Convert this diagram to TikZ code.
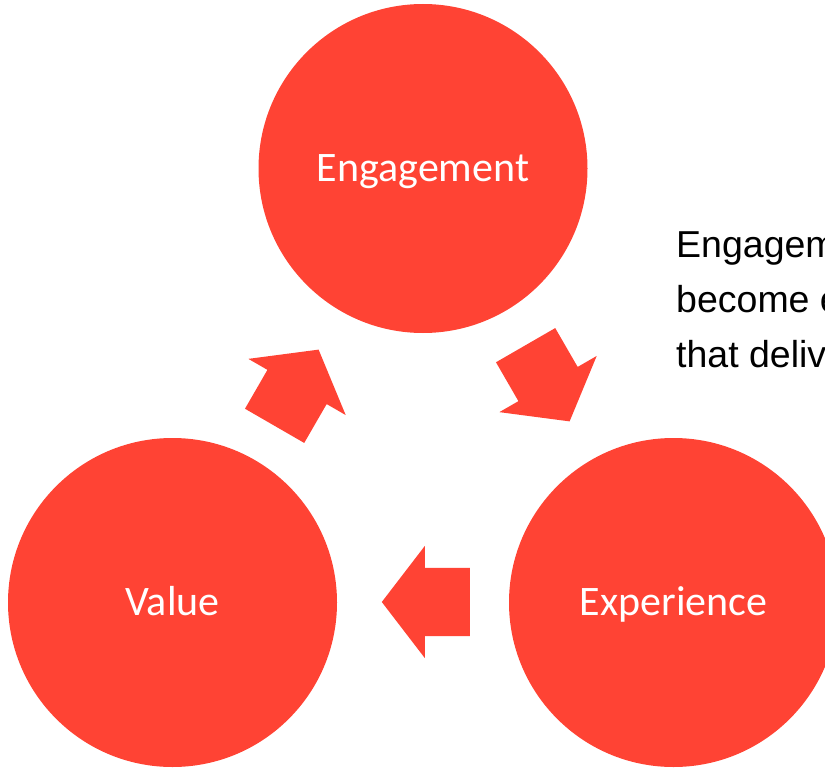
\documentclass[tikz,border=0pt]{standalone}
\usepackage{fontspec}
\newfontfamily\labelfont{Carlito}
\newfontfamily\notefont{Liberation Sans}
\usepackage{tikz}
\usetikzlibrary{
	shapes,
	shapes.arrows}
\definecolor{cyclered}{RGB}{255,67,52}

\begin{document}
\begin{tikzpicture}[x=1pt,y=-1pt,every text node part/.style={align=left}]
  \tikzstyle{stage}=[circle,fill=cyclered,minimum size=329pt,
    inner sep=0pt, outer sep=0pt,text=white,text height=33pt,text depth=8pt,
    font=\labelfont\fontsize{42}{50}\selectfont]
  \tikzstyle{flow}=[single arrow,fill=cyclered,inner xsep=0pt,inner ysep=34pt,
    minimum height=88pt,anchor=tail,
    single arrow head extend=22pt,single arrow tip angle=105]

  \clip (0,0) rectangle (825,768);

  \node [stage] (engagement) at (423,168.5) {Engagement};
  \node [stage] (value) at (172.5,602.5) {Value};
  \node [stage] (experience) at (673.5,602.5) {Experience};

  \node [flow,rotate=60] (toengagement) at (274.5,426) {};
  \node [flow,rotate=-60] (toexperience) at (525.5,345) {};
  \node [flow,rotate=180] (tovalue) at (470,602) {};

  \node [anchor=base west,inner sep=0pt,
    font=\notefont\fontsize{37.5}{55}\selectfont] (note) at (676,367) {
    Engagem\\
    become e\\
    that deliv
  };
\end{tikzpicture}
\end{document}
